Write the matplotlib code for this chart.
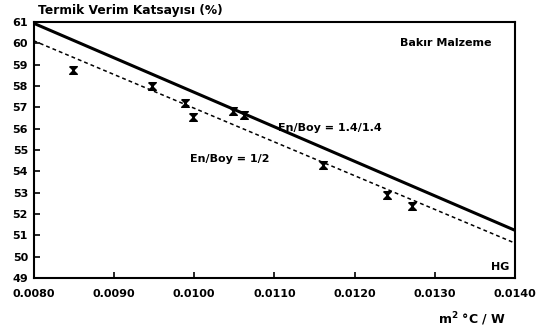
import matplotlib.pyplot as plt
import numpy as np

# fitted lines (end points)
x_line = [0.0080, 0.0140]
y_solid = [60.95, 51.23]   # En/Boy = 1.4/1.4
y_dash = [60.13, 50.63]    # En/Boy = 1/2

# measured points
x_pts = [0.00849, 0.00948, 0.00989, 0.00999, 0.01049, 0.01062, 0.01160, 0.01240, 0.01271]
y_pts = [58.76, 58.0, 57.2, 56.56, 56.85, 56.65, 54.32, 52.9, 52.4]

x_ticks = [0.0080, 0.0090, 0.0100, 0.0110, 0.0120, 0.0130, 0.0140]
x_labels = ["0.0080", "0.0090", "0.0100", "0.0110", "0.0120", "0.0130", "0.0140"]
y_ticks = list(range(49, 62))

plt.rcParams['font.family'] = 'DejaVu Sans'
plt.rcParams['font.weight'] = 'bold'

fig = plt.figure(figsize=(5.36, 3.35), dpi=100)
ax = fig.add_axes([0.0625, 0.170, 0.899, 0.764])

ax.plot(x_line, y_solid, color='black', lw=2.2, solid_capstyle='butt')
ax.plot(x_line, y_dash, color='black', lw=1.1, ls=(0, (2.5, 2)))

hourglass = [(-1, 1), (1, 1), (-1, -1), (1, -1), (-1, 1)]
ax.plot(x_pts, y_pts, ls='none', marker=hourglass, ms=5.5, color='black')

ax.set_xlim(0.0080, 0.0140)
ax.set_ylim(49, 61)
ax.set_xticks(x_ticks)
ax.set_xticklabels(x_labels)
ax.set_yticks(y_ticks)
ax.tick_params(direction='in', length=4, width=1.2, labelsize=8)
ax.tick_params(axis='x', pad=8)
ax.tick_params(axis='y', pad=4)
for s in ax.spines.values():
    s.set_linewidth(1.5)

fig.text(0.071, 0.97, "Termik Verim Katsayısı (%)", fontsize=8.8, fontweight='bold', va='center')
ax.text(0.0137, 60.0, "Bakır Malzeme", fontsize=8, ha='right', va='center')
ax.text(0.01104, 56.05, "En/Boy = 1.4/1.4", fontsize=8, va='center')
ax.text(0.00995, 54.6, "En/Boy = 1/2", fontsize=8, va='center')
ax.text(0.01393, 49.3, "HG", fontsize=8, ha='right', va='bottom')
fig.text(0.88, 0.02, "m$^{2}$ °C / W", fontsize=9, ha='center', va='bottom')

fig.savefig("out.png", dpi=100)
